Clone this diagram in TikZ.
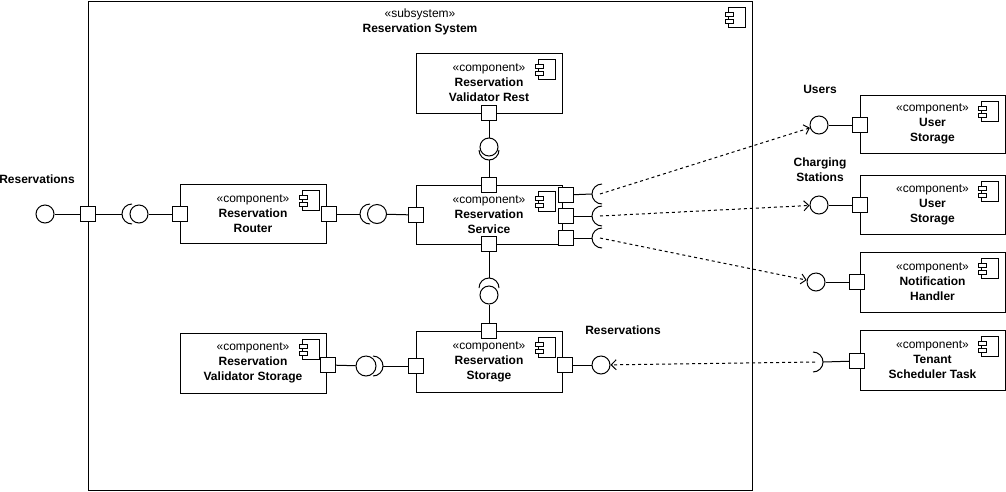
\documentclass[tikz,border=0pt]{standalone}
\usepackage{fontspec}
\setmainfont{Liberation Sans}
\usetikzlibrary{arrows.meta}
\begin{document}
\begin{tikzpicture}[x=1pt,y=-1pt,line width=1pt,
  comp/.style={draw,fill=white,minimum width=146pt,minimum height=60pt,inner sep=0pt,align=center,font=\fontsize{12}{15}\selectfont},
  rcomp/.style={comp,minimum width=145pt},
  port/.style={draw,fill=white,minimum size=15pt,inner sep=0pt},
  ball/.style={draw,circle,fill=white,minimum size=18pt,inner sep=0pt},
  lbl/.style={font=\bfseries\fontsize{12}{15}\selectfont,align=center,inner sep=0pt},
  dep/.style={dash pattern=on 3pt off 3pt,-{Straight Barb[length=5pt,width=10pt]}},
  cicon/.pic={
    \draw[fill=white] (-17,0) rectangle (0,20);
    \draw[fill=white] (-20,5) rectangle (-12,9);
    \draw[fill=white] (-20,12) rectangle (-12,16);
  },
  sockL/.pic={\draw (0,-10) arc[start angle=-90,end angle=-270,radius=10];},
  sockR/.pic={\draw (0,-10) arc[start angle=-90,end angle=90,radius=10];},
  sockU/.pic={\draw (-10,0) arc[start angle=180,end angle=0,radius=10];},
  sockD/.pic={\draw (-10,0) arc[start angle=180,end angle=360,radius=10];}
]
\useasboundingbox (0,0) rectangle (1006,491);

% subsystem
\node[draw,anchor=north west,minimum width=664pt,minimum height=489.5pt,inner sep=0pt] (sys) at (88,0.5) {};
\node[align=center,inner sep=0pt,font=\fontsize{12}{15}\selectfont] (systitle) at (420,21.5) {«subsystem»\\\textbf{Reservation System}};
\pic at (745,7) {cicon};

% components
\node[comp] (vrest) at (489,83) {«component»\\\textbf{Reservation}\\\textbf{Validator Rest}};
\node[comp,minimum height=59pt] (router) at (253,213.5) {«component»\\\textbf{Reservation}\\\textbf{Router}};
\node[comp,minimum height=59pt] (service) at (489,214.5) {«component»\\\textbf{Reservation}\\\textbf{Service}};
\node[comp] (vstor) at (253,363) {«component»\\\textbf{Reservation}\\\textbf{Validator Storage}};
\node[comp,minimum height=61pt] (storage) at (489,361.5) {«component»\\\textbf{Reservation}\\\textbf{Storage}};
\node[rcomp,minimum height=58pt] (us1) at (932.5,124) {«component»\\\textbf{User}\\\textbf{Storage}};
\node[rcomp,minimum height=59pt] (us2) at (932.5,204.5) {«component»\\\textbf{User}\\\textbf{Storage}};
\node[rcomp] (nh) at (932.5,282) {«component»\\\textbf{Notification}\\\textbf{Handler}};
\node[rcomp] (tst) at (932.5,360) {«component»\\\textbf{Tenant}\\\textbf{Scheduler Task}};

\foreach \n in {vrest,router,service,vstor,storage,us1,us2,nh,tst}
  \pic at ([xshift=-7pt,yshift=-7pt]\n.north east) {cicon};

% labels
\node[lbl] (lres) at (37,179) {Reservations};
\node[lbl] (lusers) at (820,89) {Users};
\node[lbl] (lcs) at (820,169.5) {Charging\\Stations};
\node[lbl] (lres2) at (623,330) {Reservations};

% ---- left external interface
\node[ball] (lball) at (45,214) {};
\node[port] (sysport) at (88,214) {};
\draw (lball) -- (sysport);
\pic at (132,214) {sockL};
\coordinate (lsockb) at (122,214);
\draw (sysport) -- (lsockb);
\node[port] (rportl) at (180,214) {};
\node[ball] (lball2) at (139,214) {};
\draw (lball2) -- (rportl);

% ---- router -> service
\node[port] (rportr) at (329,214) {};
\pic at (370,214) {sockL};
\coordinate (rsockb) at (360,214);
\draw (rportr) -- (rsockb);
\node[ball,minimum size=19pt] (rball) at (377,214) {};
\node[port] (sportl) at (416,215) {};
\draw (rball) -- (sportl);

% ---- validator rest -> service
\node[port] (vport) at (489,113) {};
\node[ball] (tball) at (489,147) {};
\draw (vport) -- (tball);
\pic at (489,150) {sockU};
\coordinate (tsockb) at (489,160);
\node[port] (sportt) at (489,185) {};
\draw (tsockb) -- (sportt);

% ---- service -> storage
\node[port] (sportb) at (489,244) {};
\pic at (489,288) {sockD};
\coordinate (bsockb) at (489,278);
\draw (sportb) -- (bsockb);
\node[ball] (bball) at (489,295) {};
\node[port] (stportt) at (489,331) {};
\draw (bball) -- (stportt);

% ---- validator storage -> storage
\node[port] (vsport) at (328,365) {};
\node[ball,minimum size=20pt] (vsball) at (366,366) {};
\draw (vsport) -- (vsball);
\pic at (373,366) {sockR};
\coordinate (vssockb) at (383,366);
\node[port] (stportl) at (416,366) {};
\draw (vssockb) -- (stportl);

% ---- storage provided interface
\node[port] (stportr) at (565,365) {};
\node[ball] (stball) at (601,365) {};
\draw (stportr) -- (stball);

% ---- service required interfaces
\node[port] (sr1) at (566,195) {};
\node[port] (sr2) at (566,216) {};
\node[port] (sr3) at (566,238) {};
\pic at (602,194) {sockL};
\pic at (602,216) {sockL};
\pic at (602,238) {sockL};
\coordinate (s1b) at (592,194);
\coordinate (s2b) at (592,216);
\coordinate (s3b) at (592,238);
\coordinate (s1c) at (600,194);
\coordinate (s2c) at (600,216);
\coordinate (s3c) at (600,238);
\draw (sr1) -- (s1b);
\draw (sr2) -- (s2b);
\draw (sr3) -- (s3b);

% ---- external components
\node[port] (u1port) at (860,125) {};
\node[ball] (u1ball) at (819,125) {};
\draw (u1ball) -- (u1port);
\node[port] (u2port) at (860,205) {};
\node[ball] (u2ball) at (819,205) {};
\draw (u2ball) -- (u2port);
\node[port] (nhport) at (857,282) {};
\node[ball] (nhball) at (816,282) {};
\draw (nhball) -- (nhport);
\node[port] (tport) at (857,361) {};
\pic at (813,362) {sockR};
\coordinate (tsockback) at (823,362);
\coordinate (tsockc) at (815,362);
\draw (tsockback) -- (tport);

% ---- dependencies
\draw[dep] (s1c) -- (u1ball);
\draw[dep] (s2c) -- (u2ball);
\draw[dep] (s3c) -- (nhball);
\draw[dep] (tsockc) -- (stball);
\end{tikzpicture}
\end{document}
